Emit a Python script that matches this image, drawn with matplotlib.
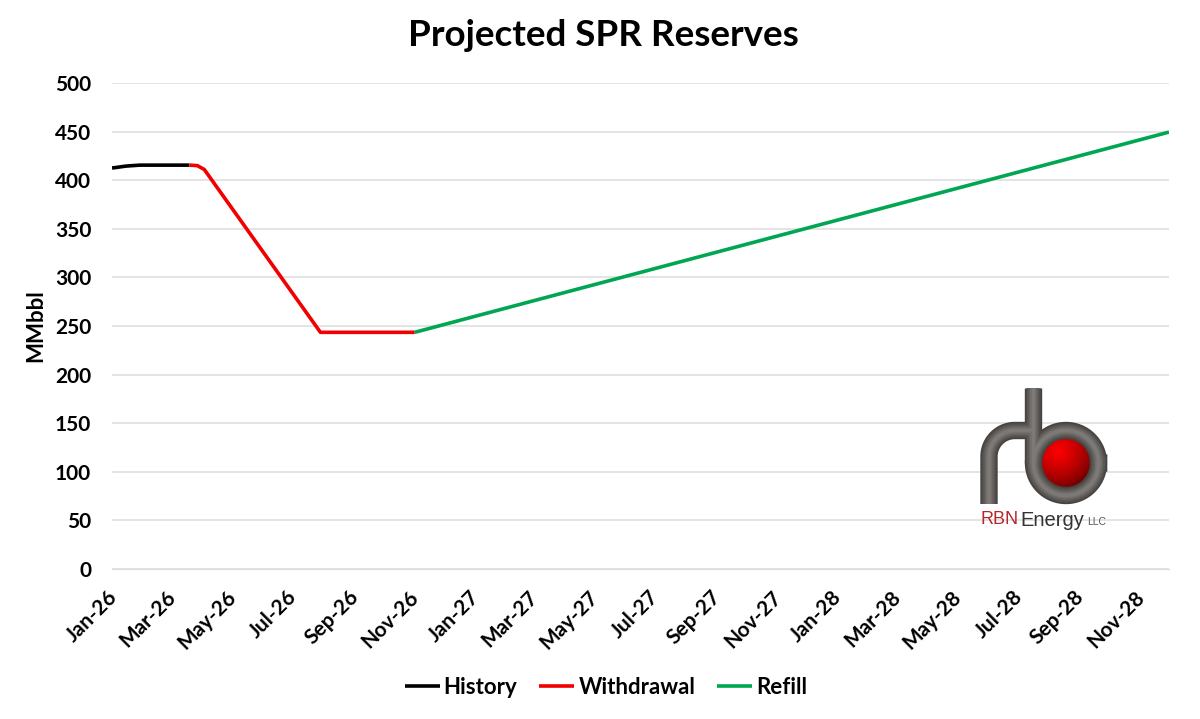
import matplotlib
matplotlib.use("Agg")
import matplotlib.pyplot as plt
import matplotlib.dates as mdates
import numpy as np
from matplotlib.patches import Circle

# values (MMbbl)
history_dates = ["2026-01-01", "2026-01-15", "2026-01-29", "2026-03-20"]
history_vals = [412.5, 414.5, 415.5, 415.5]
withdrawal_dates = ["2026-03-20", "2026-03-28", "2026-04-04", "2026-07-30", "2026-11-02"]
withdrawal_vals = [415.5, 415.0, 411.0, 243.5, 243.5]
refill_dates = ["2026-11-02", "2028-12-01"]
refill_vals = [243.5, 449.5]
y_ticks = [0, 50, 100, 150, 200, 250, 300, 350, 400, 450, 500]

plt.rcParams['font.family'] = ['Lato', 'DejaVu Sans']
plt.rcParams['font.weight'] = 'bold'


def to_dates(values):
    return mdates.date2num(np.array(values, dtype="datetime64[D]"))


fig = plt.figure(figsize=(12, 7.19), dpi=100)
ax = fig.add_axes([112 / 1200, 1 - 569 / 719, (1169 - 112) / 1200, (569 - 83) / 719])

ax.plot(to_dates(history_dates), history_vals, color='black', lw=2.6, label='History', solid_capstyle='butt')
ax.plot(to_dates(withdrawal_dates), withdrawal_vals, color='#f20000', lw=2.6, label='Withdrawal', solid_capstyle='butt')
ax.plot(to_dates(refill_dates), refill_vals, color='#00a651', lw=2.6, label='Refill', solid_capstyle='butt')

ax.set_xlim(to_dates(["2026-01-01"])[0], to_dates(["2028-12-01"])[0])
ax.set_ylim(0, 500)
ax.set_yticks(y_ticks)
ax.yaxis.grid(True, color='#dcdcdc', lw=1.1)
ax.set_axisbelow(True)
ax.xaxis.set_major_locator(mdates.MonthLocator(bymonth=range(1, 13, 2)))
ax.xaxis.set_major_formatter(mdates.DateFormatter('%b-%y'))
ax.tick_params(axis='both', length=0, labelsize=15)
ax.tick_params(axis='y', pad=15)
ax.tick_params(axis='x', pad=13)
for lab in ax.get_xticklabels():
    lab.set_rotation(45)
    lab.set_ha('right')
    lab.set_rotation_mode('anchor')
    lab.set_transform(lab.get_transform() + matplotlib.transforms.ScaledTranslation(-5 / 100, 0, fig.dpi_scale_trans))
for side in ['top', 'right', 'left']:
    ax.spines[side].set_visible(False)
ax.spines['bottom'].set_color('#dcdcdc')

fig.text(603 / 1200, 1 - 35 / 719, 'Projected SPR Reserves', ha='center', va='center', fontsize=26.5, fontweight='bold')
fig.text(36 / 1200, 1 - 326 / 719, 'MMbbl', ha='center', va='center', rotation=90, fontsize=16, fontweight='bold')
fig.legend(loc='center', bbox_to_anchor=(606 / 1200, 1 - 687 / 719), ncols=3, frameon=False, fontsize=16,
           handlelength=1.57, handletextpad=0.18, columnspacing=1.0)

# logo, drawn on a pixel-sized overlay
logo = fig.add_axes([0, 0, 1, 1], facecolor='none')
logo.set_xlim(0, 1200)
logo.set_ylim(719, 0)
logo.axis('off')

gx, gy = np.meshgrid(np.linspace(1030, 1100, 140), np.linspace(430, 500, 140))
dist = np.hypot(gx - 1058, gy - 451) / 42
shade = np.clip(1 - dist, 0, 1) ** 0.6
ball = np.dstack([0.25 + 0.75 * shade, np.zeros_like(shade), np.zeros_like(shade)])
img = logo.imshow(ball, extent=(1030, 1100, 500, 430), aspect='auto', zorder=2)
img.set_clip_path(Circle((1066, 463), 30, transform=logo.transData))
logo.set_xlim(0, 1200)
logo.set_ylim(719, 0)

t = np.linspace(0, 2 * np.pi, 120)
ring_x = 1066 + 32.5 * np.cos(t)
ring_y = 463 + 32.5 * np.sin(t)
t2 = np.linspace(-np.pi / 2, -np.pi, 40)
r_x = np.r_[1033, 1015 + 26 * np.cos(t2), 989]
r_y = np.r_[430.5, 456.5 + 26 * np.sin(t2), 504]
for width, col in [(12.5, '#454240'), (10.5, '#504d4b'), (8.5, '#5b5856'), (6.5, '#666361'), (4.5, '#716e6c'), (2.5, '#7c7977')]:
    logo.plot(r_x, r_y, color=col, lw=width, solid_capstyle='butt', zorder=3)
    logo.plot(ring_x, ring_y, color=col, lw=width, zorder=3)
    logo.plot([1033, 1033], [388, 463], color=col, lw=width, solid_capstyle='butt', zorder=3)

logo.text(981, 520, 'RBN', color='#b3272d', fontsize=13, fontweight='normal', family='Liberation Sans', ha='left', va='center')
logo.text(1020, 520, 'Energy', color='#333333', fontsize=14.5, fontweight='normal', family='Liberation Sans', ha='left', va='center')
logo.text(1087, 522, 'LLC', color='#555555', fontsize=7.5, fontweight='normal', family='Liberation Sans', ha='left', va='center')

plt.savefig('out.png', dpi=100)
plt.close(fig)
